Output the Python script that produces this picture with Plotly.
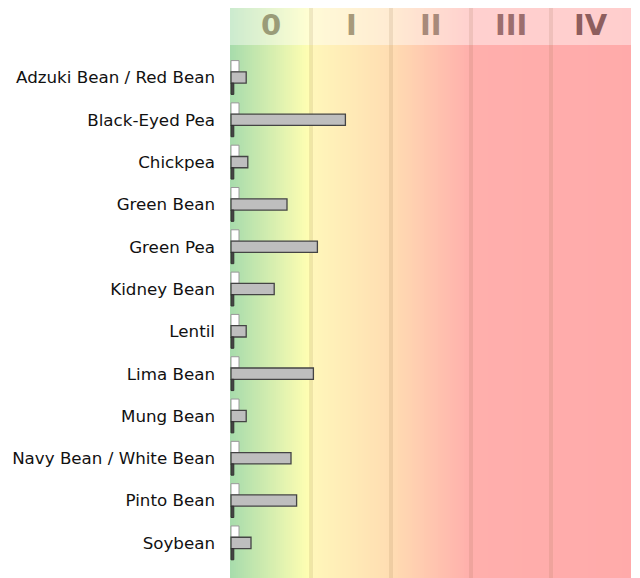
import plotly.graph_objects as go

categories = ["Adzuki Bean / Red Bean", "Black-Eyed Pea", "Chickpea", "Green Bean",
              "Green Pea", "Kidney Bean", "Lentil", "Lima Bean", "Mung Bean",
              "Navy Bean / White Bean", "Pinto Bean", "Soybean"]
white_vals = [0.10, 0.10, 0.10, 0.10, 0.10, 0.10, 0.10, 0.10, 0.10, 0.10, 0.10, 0.10]
gray_vals = [0.19, 1.43, 0.21, 0.70, 1.08, 0.54, 0.19, 1.03, 0.19, 0.75, 0.82, 0.25]
dark_vals = [0.035] * 12
zone_labels = ["0", "I", "II", "III", "IV"]
zone_label_colors = ["#9a9c78", "#a89a7a", "#a88a7a", "#9c6e6e", "#8e5e5e"]

fig = go.Figure()
fig.add_bar(y=categories, x=white_vals, orientation="h",
            marker=dict(color="white", line=dict(color="#999999", width=1)))
fig.add_bar(y=categories, x=gray_vals, orientation="h",
            marker=dict(color="#bebebe", line=dict(color="#444444", width=1.3)))
fig.add_bar(y=categories, x=dark_vals, orientation="h",
            marker=dict(color="#444444", line=dict(color="#333333", width=1)))

# background gradient
stops = [(0.0, (168, 220, 172)), (0.97, (255, 254, 178)), (1.03, (255, 246, 186)),
         (2.0, (255, 221, 178)), (3.0, (255, 175, 172)), (5.1, (255, 170, 170))]

def color_at(v):
    for (a, ca), (b, cb) in zip(stops[:-1], stops[1:]):
        if a <= v <= b:
            t = (v - a) / (b - a)
            return tuple(int(round(ca[i] + (cb[i] - ca[i]) * t)) for i in range(3))
    return stops[-1][1]

PH = 570.0  # plot area height in px
shapes = []
step = 0.025
n = int(round(5.05 / step))
x0 = -0.0125
for k in range(n):
    xa = x0 + k * step
    xb = xa + step + 0.004
    c = color_at(xa + step / 2)
    shapes.append(dict(type="rect", xref="x", yref="paper", x0=xa, x1=xb, y0=0, y1=1,
                       fillcolor="rgb(%d,%d,%d)" % c, line=dict(width=0), layer="below"))

header_bottom = (PH - 37) / PH
shapes.append(dict(type="rect", xref="paper", yref="paper", x0=0, x1=1, y0=header_bottom, y1=1,
                   fillcolor="rgba(255,255,255,0.42)", line=dict(width=0), layer="below"))
for b in [1, 2, 3, 4]:
    shapes.append(dict(type="line", xref="x", yref="paper", x0=b, x1=b, y0=0, y1=1,
                       line=dict(color="rgba(120,90,50,0.12)", width=4), layer="below"))

annotations = []
for i, lab in enumerate(zone_labels):
    annotations.append(dict(x=i + 0.5, y=(PH - 17) / PH, xref="x", yref="paper",
                            text="<b>%s</b>" % lab, showarrow=False,
                            font=dict(family="DejaVu Sans", size=29, color=zone_label_colors[i]),
                            xanchor="center", yanchor="middle"))

fig.update_layout(
    width=640, height=578,
    margin=dict(l=222, r=17, t=0, b=8, autoexpand=False),
    barmode="group", bargap=0.2, bargroupgap=0,
    showlegend=False,
    plot_bgcolor="white", paper_bgcolor="white",
    shapes=shapes, annotations=annotations,
    font=dict(family="DejaVu Sans", size=16.7, color="#111111"),
)
fig.update_xaxes(range=[-0.0125, 5.0], showgrid=False, zeroline=False, showticklabels=False,
                 ticks="", showline=False, automargin=False)
fig.update_yaxes(type="category", range=[11.83, -1.643], showgrid=False, zeroline=False,
                 ticks="", showline=False, ticklabelstandoff=14, automargin=False)

fig.write_html("out.html")
